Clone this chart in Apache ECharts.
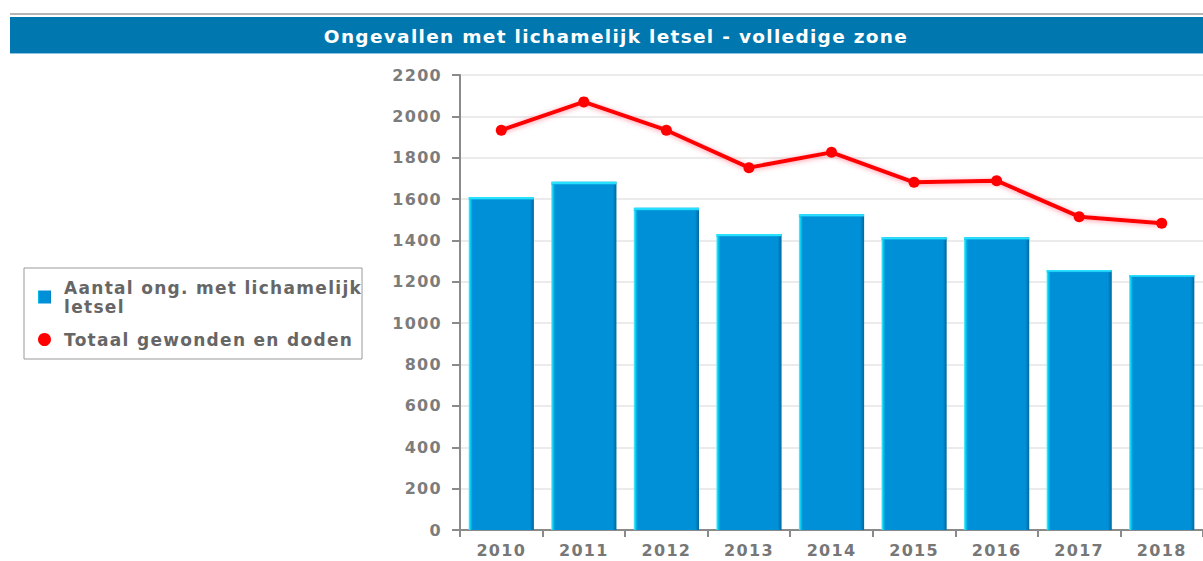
<!DOCTYPE html>
<html>
<head>
<meta charset="utf-8">
<script src="https://cdn.jsdelivr.net/npm/echarts@6/dist/echarts.min.js"></script>
<style>
  html, body { margin: 0; padding: 0; background: #fff; }
  #chart { width: 1203px; height: 561px; }
  #chart text { letter-spacing: 1.3px; }
</style>
</head>
<body>
<div id="chart"></div>
<script>
// categories (years)
const years = ['2010', '2011', '2012', '2013', '2014', '2015', '2016', '2017', '2018'];
// aantal ongevallen met lichamelijk letsel
const ongevallen = [1610, 1684, 1558, 1431, 1527, 1415, 1415, 1257, 1233];
// totaal gewonden en doden
const gewondenDoden = [1933, 2070, 1933, 1752, 1826, 1681, 1689, 1515, 1483];
// y axis ticks
const yMin = 0, yMax = 2200, yStep = 200;

const seriesNames = ['Aantal ong. met lichamelijk letsel', 'Totaal gewonden en doden'];
const fontBold = 'DejaVu Sans';

let myChart = echarts.init(document.getElementById('chart'), null, { renderer: 'svg' });

let option = {
  animation: false,
  title: {
    text: 'Ongevallen met lichamelijk letsel - volledige zone',
    left: 611,
    textAlign: 'center',
    top: 22,
    textStyle: {
      color: '#fff',
      fontFamily: fontBold,
      fontWeight: 'bold',
      fontSize: 18.5
    }
  },
  graphic: [
    { type: 'rect', shape: { x: 10, y: 13, width: 1193, height: 2 }, style: { fill: '#b5b5b5' }, z: -1 },
    { type: 'rect', shape: { x: 10, y: 17, width: 1193, height: 36 }, style: { fill: '#0077ae' }, z: -1 },
    { type: 'rect', shape: { x: 10, y: 53, width: 1193, height: 1 }, style: { fill: '#8ec3e0' }, z: -1 }
  ],
  legend: {
    orient: 'vertical',
    left: 24,
    top: 268,
    padding: [10, 35, 10, 14],
    borderColor: '#999',
    borderWidth: 1,
    itemGap: 14,
    itemWidth: 13,
    itemHeight: 13,
    textStyle: {
      color: '#666',
      fontFamily: fontBold,
      fontWeight: 'bold',
      fontSize: 17,
      lineHeight: 19,
      padding: [0, 0, 0, 8]
    },
    formatter: function(name) {
      if (name === seriesNames[0]) return 'Aantal ong. met lichamelijk\nletsel';
      return name;
    },
    data: [
      { name: seriesNames[0], icon: 'rect' },
      { name: seriesNames[1], icon: 'circle' }
    ]
  },
  grid: {
    left: 460,
    right: -5,
    top: 75,
    bottom: 31
  },
  xAxis: {
    type: 'category',
    data: years,
    axisLine: { lineStyle: { color: '#8a8a8a', width: 2 } },
    axisTick: { show: true, length: 7, lineStyle: { color: '#8a8a8a', width: 2 } },
    axisLabel: {
      color: '#777',
      fontFamily: fontBold,
      fontWeight: 'bold',
      fontSize: 16,
      margin: 12
    }
  },
  yAxis: {
    type: 'value',
    min: yMin,
    max: yMax,
    interval: yStep,
    axisLine: { show: true, lineStyle: { color: '#8a8a8a', width: 2 } },
    axisTick: { show: true, length: 8, lineStyle: { color: '#8a8a8a', width: 2 } },
    splitLine: { lineStyle: { color: '#ebebeb', width: 2 } },
    axisLabel: {
      color: '#7c7c7c',
      fontFamily: fontBold,
      fontWeight: 'bold',
      fontSize: 16,
      margin: 18,
      formatter: function(v) { return String(v); }
    }
  },
  series: [
    {
      name: seriesNames[0],
      type: 'bar',
      data: ongevallen,
      barCategoryGap: '21%',
      itemStyle: {
        color: new echarts.graphic.LinearGradient(0, 0, 1, 0, [
          { offset: 0, color: '#5ff0ff' },
          { offset: 0.03, color: '#00c8f0' },
          { offset: 0.06, color: '#0090d8' },
          { offset: 0.94, color: '#0090d8' },
          { offset: 1, color: '#00679e' }
        ])
      }
    },
    {
      // bovenste lichtrand van de staven
      type: 'bar',
      data: ongevallen,
      barCategoryGap: '21%',
      barGap: '-100%',
      silent: true,
      itemStyle: {
        color: new echarts.graphic.LinearGradient(0, 0, 0, 1, [
          { offset: 0, color: 'rgba(40,225,255,1)' },
          { offset: 0.005, color: 'rgba(40,225,255,1)' },
          { offset: 0.011, color: 'rgba(0,144,216,0)' },
          { offset: 1, color: 'rgba(0,144,216,0)' }
        ])
      }
    },
    {
      name: seriesNames[1],
      type: 'line',
      data: gewondenDoden,
      symbol: 'circle',
      symbolSize: 11,
      itemStyle: { color: '#ff0000' },
      lineStyle: {
        color: '#ff0000',
        width: 4,
        shadowColor: 'rgba(255, 60, 90, 0.55)',
        shadowBlur: 5,
        shadowOffsetY: 1
      },
      z: 5
    }
  ]
};

myChart.setOption(option);
</script>
</body>
</html>
